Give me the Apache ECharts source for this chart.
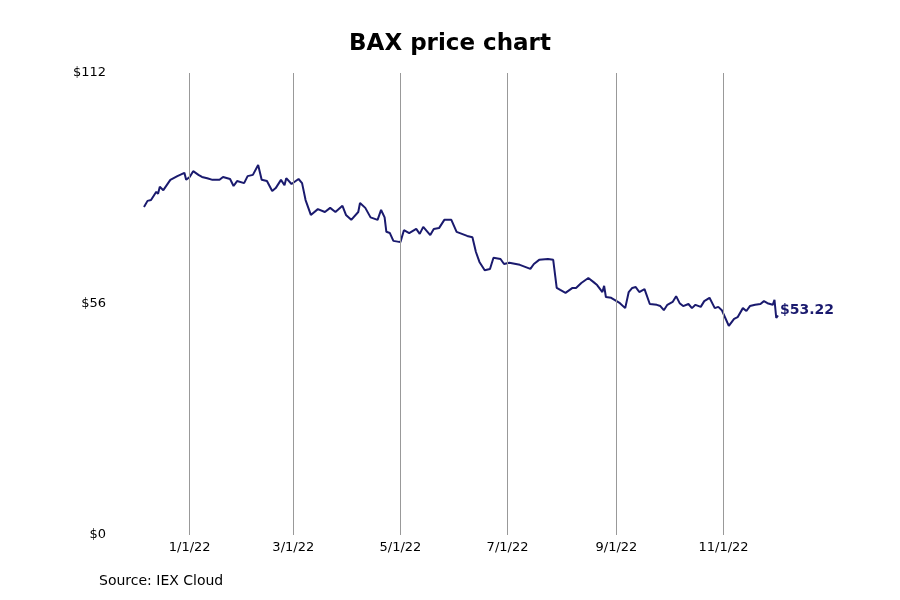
<!DOCTYPE html>
<html><head><meta charset="utf-8">
<script src="https://cdn.jsdelivr.net/npm/echarts@6/dist/echarts.min.js"></script>
<style>html,body{margin:0;padding:0;background:#fff}#c{width:900px;height:600px}</style>
</head><body><div id="c"></div>
<script>
// days since 2022-01-01
const days = [-26,-24,-22,-19,-18,-17,-15,-14,-11,-7,-3,-2,0,2,5,7,10,13,17,19,23,25,27,31,33,36,39,41,44,47,49,52,54,55,58,62,64,66,69,73,77,80,83,87,89,92,96,97,100,103,107,109,111,112,114,116,120,122,125,129,131,133,137,139,142,145,149,152,155,158,161,163,165,168,171,173,177,179,182,188,194,196,199,204,207,209,211,214,218,220,223,227,230,232,235,236,237,240,245,248,250,252,254,256,259,262,266,268,270,272,275,277,279,281,284,286,288,291,293,296,299,301,303,305,307,310,312,315,317,319,322,325,327,329,332,333,334,335];
const prices = [79.5,81.0,81.2,83.2,82.7,84.4,83.6,83.2,86.1,87.0,87.8,86.1,86.8,88.2,87.3,86.8,86.5,86.1,86.1,86.8,86.3,84.6,85.8,85.3,87.0,87.3,89.7,86.1,85.8,83.4,84.1,86.1,84.8,86.5,85.1,86.3,85.3,81.2,77.6,79.0,78.3,79.3,78.3,79.8,77.6,76.4,78.3,80.5,79.3,77.0,76.4,78.8,77.0,73.5,73.2,71.3,71.0,73.9,73.2,74.2,73.0,74.7,72.7,74.2,74.4,76.4,76.4,73.5,73.0,72.5,72.2,68.6,66.2,64.2,64.5,67.2,66.9,65.7,66.0,65.5,64.5,65.7,66.7,66.9,66.7,59.9,59.4,58.7,59.9,59.9,61.1,62.3,61.3,60.6,58.9,60.4,57.7,57.5,56.2,55.0,58.9,59.9,60.1,58.9,59.6,56.0,55.8,55.5,54.5,55.8,56.5,57.9,56.2,55.5,56.0,55.0,55.8,55.3,56.7,57.5,55.0,55.3,54.5,52.6,50.7,52.4,52.8,55.0,54.3,55.5,55.8,56.0,56.7,56.2,55.8,57.0,52.6,53.22];
const tickDays = [0,59,120,181,243,304];
const tickLabels = ['1/1/22','3/1/22','5/1/22','7/1/22','9/1/22','11/1/22'];
const yTicks = [0,56,112];
const n = Math.min(days.length, prices.length);
const data = [];
for (let i = 0; i < n; i++) data.push([days[i], prices[i]]);
const chart = echarts.init(document.getElementById('c'));
chart.setOption({
  animation: false,
  title: { text: 'BAX price chart', left: 'center', top: 28, textStyle: { fontFamily: 'DejaVu Sans', fontSize: 23, fontWeight: 'bold', color: '#000' } },
  graphic: [{ type: 'text', left: 99, top: 574, style: { text: 'Source: IEX Cloud', font: '14px DejaVu Sans', fill: '#000' } }],
  grid: { left: 144, right: 122, top: 73, bottom: 65 },
  xAxis: { type: 'value', min: -26, max: 335,
    axisLine: { show: false }, splitLine: { show: false },
    axisTick: { show: false },
    axisLabel: { customValues: tickDays, fontFamily: 'DejaVu Sans', fontSize: 13, color: '#000', margin: 6,
      formatter: v => tickLabels[tickDays.indexOf(v)] || '' } },
  yAxis: { type: 'value', min: 0, max: 112, interval: 56,
    axisLine: { show: false }, axisTick: { show: false }, splitLine: { show: false },
    axisLabel: { fontFamily: 'DejaVu Sans', fontSize: 13, color: '#000', margin: 38, formatter: v => '$' + v } },
  series: [{
    type: 'line', data: data, showSymbol: false, smooth: false,
    lineStyle: { color: '#1a1a6e', width: 2 },
    endLabel: { show: true, formatter: p => '$' + p.value[1].toFixed(2), color: '#1a1a6e', fontWeight: 'bold', fontSize: 14, fontFamily: 'DejaVu Sans', offset: [-6, -5] },
    markLine: { silent: true, symbol: 'none', label: { show: false },
      lineStyle: { color: '#999', type: 'solid', width: 1 },
      data: tickDays.map(d => ({ xAxis: d })) }
  }]
});
</script></body></html>
